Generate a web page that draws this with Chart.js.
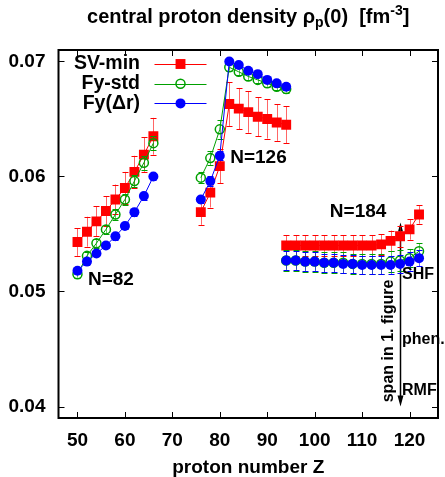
<!DOCTYPE html>
<html>
<head>
<meta charset="utf-8">
<script src="https://cdn.jsdelivr.net/npm/chart.js@4.4.0/dist/chart.umd.min.js"></script>
<style>
  html, body { margin: 0; padding: 0; background: #fff; }
</style>
</head>
<body>
<canvas id="density" width="445" height="477"></canvas>
<script>
// proton numbers along the three isotone chains
var zN82  = [50, 52, 54, 56, 58, 60, 62, 64, 66];
var zN126 = [76, 78, 80, 82, 84, 86, 88, 90, 92, 94];
var zN184 = [94, 96, 98, 100, 102, 104, 106, 108, 110, 112, 114, 116, 118, 120, 122];

// SV-min
var svN82     = [0.0543, 0.0552, 0.0561, 0.0570, 0.0580, 0.0590, 0.0604, 0.0619, 0.0635];
var svN82Err  = [0.0012, 0.0013, 0.0013, 0.0013, 0.0013, 0.0014, 0.0014, 0.0015, 0.0016];
var svN126    = [0.0569, 0.0586, 0.0609, 0.0663, 0.0659, 0.0656, 0.0652, 0.0650, 0.0647, 0.0645];
var svN126Err = [0.0011, 0.0013, 0.0015, 0.0019, 0.0018, 0.0018, 0.0017, 0.0017, 0.0016, 0.0016];
var svN184    = [0.0540, 0.0540, 0.0540, 0.0540, 0.0540, 0.0540, 0.0540, 0.0540, 0.0540, 0.0540, 0.0541, 0.0544, 0.0548, 0.0554, 0.0567];
var svN184Err = [0.0009, 0.0009, 0.0009, 0.0009, 0.0009, 0.0009, 0.0009, 0.0009, 0.0009, 0.0009, 0.0009, 0.0009, 0.0009, 0.0009, 0.0008];

// Fy-std
var fsN82     = [0.0515, 0.0531, 0.0542, 0.0554, 0.0567, 0.0580, 0.0596, 0.0612, 0.0629];
var fsN82Err  = [0.0003, 0.0003, 0.0004, 0.0004, 0.0005, 0.0005, 0.0005, 0.0006, 0.0006];
var fsN126    = [0.0599, 0.0616, 0.0641, 0.0695, 0.0691, 0.0687, 0.0684, 0.0681, 0.0678, 0.0676];
var fsN126Err = [0.0005, 0.0006, 0.0008, 0.0003, 0.0003, 0.0003, 0.0003, 0.0003, 0.0003, 0.0003];
var fsN184    = [0.0527, 0.0527, 0.0526, 0.0526, 0.0525, 0.0525, 0.0525, 0.0524, 0.0524, 0.0524, 0.0524, 0.0526, 0.0527, 0.0529, 0.0535];
var fsN184Err = [0.0009, 0.0009, 0.0009, 0.0009, 0.0009, 0.0009, 0.0009, 0.0009, 0.0009, 0.0009, 0.0009, 0.0009, 0.0009, 0.0008, 0.0007];

// Fy(Δr)
var frN82     = [0.0518, 0.0526, 0.0533, 0.0540, 0.0548, 0.0557, 0.0569, 0.0583, 0.0600];
var frN82Err  = [0.0002, 0.0002, 0.0002, 0.0002, 0.0003, 0.0003, 0.0003, 0.0003, 0.0003];
var frN126    = [0.0580, 0.0596, 0.0618, 0.0700, 0.0697, 0.0692, 0.0689, 0.0684, 0.0681, 0.0678];
var frN126Err = [0.0003, 0.0004, 0.0004, 0.0002, 0.0002, 0.0002, 0.0002, 0.0002, 0.0002, 0.0003];
var frN184    = [0.0527, 0.0527, 0.0526, 0.0526, 0.0525, 0.0525, 0.0524, 0.0524, 0.0523, 0.0523, 0.0523, 0.0523, 0.0524, 0.0526, 0.0529];
var frN184Err = [0.0008, 0.0008, 0.0008, 0.0008, 0.0008, 0.0008, 0.0008, 0.0008, 0.0008, 0.0008, 0.0008, 0.0008, 0.0008, 0.0008, 0.0007];

var xTicks = [50, 60, 70, 80, 90, 100, 110, 120];
var yTicks = [0.04, 0.05, 0.06, 0.07];

var FONT = "'Liberation Sans', Arial, Helvetica, sans-serif";

// one dataset per model, the chains separated by a null point so the line breaks
function chain(zs, ys, es) {
    return zs.map(function (z, i) { return { x: z, y: ys[i], e: es[i] }; });
}
function joinChains(parts) {
    var out = [];
    parts.forEach(function (p, k) {
        if (k > 0) out.push({ x: p[0].x, y: null, e: 0 });
        out = out.concat(p);
    });
    return out;
}

var svData = joinChains([chain(zN82, svN82, svN82Err), chain(zN126, svN126, svN126Err), chain(zN184, svN184, svN184Err)]);
var fsData = joinChains([chain(zN82, fsN82, fsN82Err), chain(zN126, fsN126, fsN126Err), chain(zN184, fsN184, fsN184Err)]);
var frData = joinChains([chain(zN82, frN82, frN82Err), chain(zN126, frN126, frN126Err), chain(zN184, frN184, frN184Err)]);

// vertical error bars, drawn just before each dataset so markers sit on top
var errorBars = {
    id: 'errorBars',
    beforeDatasetDraw: function (chart, args) {
        var ds = chart.data.datasets[args.index];
        var xs = chart.scales.x, ys = chart.scales.y, ctx = chart.ctx;
        var a = chart.chartArea;
        ctx.save();
        ctx.beginPath();
        ctx.rect(a.left, a.top, a.right - a.left, a.bottom - a.top);
        ctx.clip();
        ctx.strokeStyle = ds.borderColor;
        ctx.lineWidth = 1;
        ds.data.forEach(function (p) {
            if (p.y === null) return;
            var x = Math.round(xs.getPixelForValue(p.x)) + 0.5;
            var y1 = ys.getPixelForValue(p.y - p.e);
            var y2 = ys.getPixelForValue(p.y + p.e);
            ctx.globalAlpha = 0.6;
            ctx.beginPath();
            ctx.moveTo(x, y1); ctx.lineTo(x, y2);
            ctx.stroke();
            ctx.globalAlpha = 1;
            ctx.beginPath();
            ctx.moveTo(x - 3, Math.round(y1) + 0.5); ctx.lineTo(x + 3, Math.round(y1) + 0.5);
            ctx.moveTo(x - 3, Math.round(y2) + 0.5); ctx.lineTo(x + 3, Math.round(y2) + 0.5);
            ctx.stroke();
        });
        ctx.restore();
    }
};

// arrow for the spread of the first figure, drawn under the markers
var spanArrow = {
    id: 'spanArrow',
    beforeDatasetsDraw: function (chart) {
        var xs = chart.scales.x, ys = chart.scales.y, ctx = chart.ctx;
        var x = Math.round(xs.getPixelForValue(118)) + 0.5;
        var yTop = ys.getPixelForValue(0.0560);
        var yBot = ys.getPixelForValue(0.0400);
        ctx.save();
        ctx.strokeStyle = '#000';
        ctx.fillStyle = '#000';
        ctx.lineWidth = 1.5;
        ctx.beginPath();
        ctx.moveTo(x, yTop + 4);
        ctx.lineTo(x, yBot - 6);
        ctx.stroke();
        ctx.beginPath();
        ctx.moveTo(x, yTop); ctx.lineTo(x - 2.5, yTop + 9); ctx.lineTo(x + 2.5, yTop + 9);
        ctx.closePath(); ctx.fill();
        ctx.beginPath();
        ctx.moveTo(x, yBot); ctx.lineTo(x - 3, yBot - 11); ctx.lineTo(x + 3, yBot - 11);
        ctx.closePath(); ctx.fill();
        ctx.restore();
    }
};

// labels, legend, title, frame and inward ticks
var decorations = {
    id: 'decorations',
    afterDraw: function (chart) {
        var xs = chart.scales.x, ys = chart.scales.y, ctx = chart.ctx;
        var a = chart.chartArea;
        ctx.save();

        // frame with inward ticks on all four sides
        ctx.strokeStyle = '#000';
        ctx.lineWidth = 1;
        ctx.beginPath();
        xTicks.forEach(function (v) {
            var px = Math.round(xs.getPixelForValue(v)) + 0.5;
            ctx.moveTo(px, a.bottom); ctx.lineTo(px, a.bottom - 6);
            ctx.moveTo(px, a.top); ctx.lineTo(px, a.top + 6);
        });
        yTicks.forEach(function (v) {
            var py = Math.round(ys.getPixelForValue(v)) + 0.5;
            ctx.moveTo(a.left, py); ctx.lineTo(a.left + 6, py);
            ctx.moveTo(a.right, py); ctx.lineTo(a.right - 6, py);
        });
        ctx.stroke();
        ctx.lineWidth = 2;
        ctx.strokeRect(a.left, a.top, a.right - a.left, a.bottom - a.top);

        ctx.fillStyle = '#000';
        ctx.textBaseline = 'middle';

        // chain labels
        ctx.font = 'bold 19px ' + FONT;
        ctx.textAlign = 'left';
        ctx.fillText('N=82', xs.getPixelForValue(52.2), ys.getPixelForValue(0.0510));
        ctx.fillText('N=126', xs.getPixelForValue(82.2), ys.getPixelForValue(0.0616));
        ctx.fillText('N=184', xs.getPixelForValue(103.2), ys.getPixelForValue(0.0569));

        // model labels beside the arrow
        var ax = xs.getPixelForValue(118);
        ctx.font = 'bold 16px ' + FONT;
        ctx.fillText('SHF', ax + 2, ys.getPixelForValue(0.0515));
        ctx.fillText('phen.', ax + 2, ys.getPixelForValue(0.0458));
        ctx.fillText('RMF', ax + 2, ys.getPixelForValue(0.0414));
        ctx.save();
        ctx.translate(ax - 11.5, ys.getPixelForValue(0.0457));
        ctx.rotate(-Math.PI / 2);
        ctx.textAlign = 'center';
        ctx.fillText('span in 1. figure', 0, 0);
        ctx.restore();

        // legend: label on the left, line sample with marker on the right
        chart.data.datasets.forEach(function (ds, i) {
            var y = a.top + 14 + i * 19.7;
            var mx = a.left + 122;
            ctx.font = 'bold 19.5px ' + FONT;
            ctx.textAlign = 'right';
            ctx.fillStyle = '#000';
            ctx.fillText(ds.label, a.left + 81.5, y);
            ctx.strokeStyle = ds.borderColor;
            ctx.lineWidth = 1;
            ctx.beginPath();
            ctx.moveTo(a.left + 96, Math.round(y) + 0.5);
            ctx.lineTo(a.left + 148, Math.round(y) + 0.5);
            ctx.stroke();
            ctx.fillStyle = ds.pointBackgroundColor;
            ctx.lineWidth = ds.pointBorderWidth;
            ctx.beginPath();
            if (ds.pointStyle === 'rect') {
                var h = ds.pointRadius * Math.SQRT1_2;
                ctx.rect(mx - h, y - h, 2 * h, 2 * h);
            } else {
                ctx.arc(mx, y, ds.pointRadius, 0, 2 * Math.PI);
            }
            ctx.fill();
            if (ds.pointBorderWidth > 0) ctx.stroke();
        });

        // title with subscript and superscript
        var big = 'bold 20px ' + FONT, small = 'bold 14px ' + FONT;
        var parts = [
            { t: 'central proton density \u03c1', f: big, dy: 0 },
            { t: 'p', f: small, dy: 4 },
            { t: '(0)  [fm', f: big, dy: 0 },
            { t: '-3', f: small, dy: -8 },
            { t: ']', f: big, dy: 0 }
        ];
        var w = 0;
        parts.forEach(function (p) { ctx.font = p.f; p.w = ctx.measureText(p.t).width; w += p.w; });
        var tx = (a.left + a.right) / 2 - w / 2;
        ctx.textAlign = 'left';
        ctx.textBaseline = 'alphabetic';
        ctx.fillStyle = '#000';
        parts.forEach(function (p) {
            ctx.font = p.f;
            ctx.fillText(p.t, tx, 23 + p.dy);
            tx += p.w;
        });

        ctx.restore();
    }
};

var ctx = document.getElementById('density').getContext('2d');
var densityChart = new Chart(ctx, {
    type: 'line',
    data: {
        datasets: [{
            label: 'SV-min',
            data: svData,
            borderColor: '#ff0000',
            backgroundColor: '#ff0000',
            pointBackgroundColor: '#ff0000',
            pointStyle: 'rect',
            pointRadius: 7,
            pointBorderWidth: 0,
            borderWidth: 1,
            order: 3
        }, {
            label: 'Fy-std',
            data: fsData,
            borderColor: '#00a000',
            backgroundColor: '#00a000',
            pointBackgroundColor: 'rgba(0,0,0,0)',
            pointStyle: 'circle',
            pointRadius: 4.5,
            pointBorderWidth: 1.5,
            borderWidth: 1,
            order: 2
        }, {
            label: 'Fy(\u0394r)',
            data: frData,
            borderColor: '#0000ff',
            backgroundColor: '#0000ff',
            pointBackgroundColor: '#0000ff',
            pointStyle: 'circle',
            pointRadius: 5,
            pointBorderWidth: 0,
            borderWidth: 1,
            order: 1
        }]
    },
    options: {
        responsive: false,
        animation: false,
        devicePixelRatio: 1,
        spanGaps: false,
        layout: { padding: { top: 50, right: 4.5, bottom: 0, left: 0 } },
        plugins: {
            legend: { display: false },
            title: { display: false },
            tooltip: { enabled: false }
        },
        scales: {
            x: {
                type: 'linear',
                min: 46,
                max: 126,
                grid: { display: false, drawTicks: false },
                border: { display: false },
                afterBuildTicks: function (scale) {
                    scale.ticks = xTicks.map(function (v) { return { value: v }; });
                },
                afterFit: function (scale) { scale.height = 59; },
                ticks: {
                    padding: 11,
                    color: '#000',
                    maxRotation: 0,
                    font: { family: FONT, size: 19, weight: 'bold' }
                },
                title: {
                    display: true,
                    text: 'proton number Z',
                    color: '#000',
                    padding: { top: 0, bottom: 0 },
                    font: { family: FONT, size: 19, weight: 'bold', lineHeight: 1 }
                }
            },
            y: {
                type: 'linear',
                min: 0.039,
                max: 0.071,
                grid: { display: false, drawTicks: false },
                border: { display: false },
                afterBuildTicks: function (scale) {
                    scale.ticks = yTicks.map(function (v) { return { value: v }; });
                },
                afterFit: function (scale) { scale.width = 58.5; },
                ticks: {
                    padding: 13,
                    color: '#000',
                    font: { family: FONT, size: 19, weight: 'bold' },
                    callback: function (v) { return v.toFixed(2); }
                }
            }
        }
    },
    plugins: [errorBars, spanArrow, decorations]
});
</script>
</body>
</html>
